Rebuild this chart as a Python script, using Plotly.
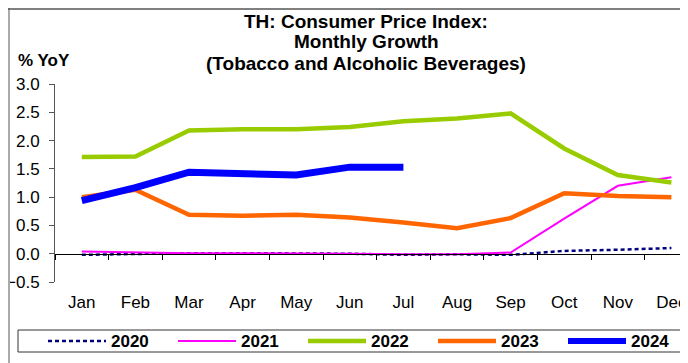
import plotly.graph_objects as go

months = ['Jan', 'Feb', 'Mar', 'Apr', 'May', 'Jun', 'Jul', 'Aug', 'Sep', 'Oct', 'Nov', 'Dec']

cpi_2020 = [-0.02, 0.0, 0.01, 0.01, 0.01, 0.0, -0.02, -0.01, -0.02, 0.05, 0.07, 0.10]
cpi_2021 = [0.04, 0.02, 0.01, 0.01, 0.01, 0.0, -0.01, -0.01, 0.02, 0.62, 1.20, 1.35]
cpi_2022 = [1.71, 1.72, 2.18, 2.20, 2.20, 2.24, 2.34, 2.39, 2.48, 1.86, 1.39, 1.26]
cpi_2023 = [1.00, 1.13, 0.69, 0.67, 0.69, 0.64, 0.55, 0.45, 0.63, 1.07, 1.02, 1.00]
cpi_2024 = [0.94, 1.17, 1.44, 1.41, 1.39, 1.53, 1.53]

title_lines = ['TH: Consumer Price Index:', 'Monthly Growth', '(Tobacco and Alcoholic Beverages)']

FONT = 'Liberation Sans, Arial, sans-serif'
OFF = 8                      # page body margin the figure sits in
W, H = 688 - OFF, 363 - OFF

series = [
    ('2020', cpi_2020, dict(color='#000080', width=2.5, dash='4px,3px')),
    ('2021', cpi_2021, dict(color='#FF00FF', width=2)),
    ('2022', cpi_2022, dict(color='#99CC00', width=4.5)),
    ('2023', cpi_2023, dict(color='#FF6600', width=4.5)),
    ('2024', cpi_2024, dict(color='#0000FF', width=7)),
]

fig = go.Figure()
for name, vals, line in series:
    fig.add_trace(go.Scatter(
        x=months[:len(vals)],
        y=vals,
        name=name,
        mode='lines',
        line=line,
        showlegend=False,
        hovertemplate=name + ': %{y:.2f}<extra></extra>'
    ))

# plot area (figure pixels)
left, right, top, bottom = 55 - OFF, 0, 84 - OFF, H - (282 - OFF)
plot_w = W - left - right
plot_h = H - top - bottom
cat_w = 53.6
x_range = [-0.5, -0.5 + plot_w / cat_w]
y_range = [-0.5, 3.0]


def fx(p):
    # screen px -> paper x
    return (p - OFF - left) / plot_w


def fy(p):
    # screen px -> paper y
    return (H - bottom - (p - OFF)) / plot_h


fig.update_layout(
    width=W, height=H,
    margin=dict(l=left, r=right, t=top, b=bottom, autoexpand=False),
    paper_bgcolor='white',
    plot_bgcolor='white',
    font=dict(family=FONT, size=17, color='black'),
    showlegend=False,
    xaxis=dict(
        type='category',
        categoryarray=months,
        range=x_range,
        showline=False, showgrid=False, zeroline=False,
        ticks='',
        ticklabelstandoff=8,
        tickfont=dict(size=17),
    ),
    xaxis2=dict(
        type='category',
        categoryarray=months,
        range=x_range,
        overlaying='x',
        anchor='free',
        position=(0 - y_range[0]) / (y_range[1] - y_range[0]),
        showline=True, linecolor='black', linewidth=1,
        ticks='outside', ticklen=5, tickcolor='black', tickson='boundaries',
        showticklabels=False, showgrid=False, zeroline=False,
    ),
    yaxis=dict(
        range=y_range,
        dtick=0.5,
        tickformat='.1f',
        showgrid=False, zeroline=False,
        showline=True, linecolor='#555555', linewidth=1,
        ticks='outside', ticklen=5, tickcolor='#555555',
        ticklabelstandoff=6,
        tickfont=dict(size=17),
    ),
)

# dummy so xaxis2 renders
fig.add_trace(go.Scatter(x=[], y=[], xaxis='x2', showlegend=False, hoverinfo='skip'))

# title and unit label
for i, txt in enumerate(title_lines):
    fig.add_annotation(text='<b>' + txt + '</b>', xref='paper', yref='paper',
                       x=fx(366), y=fy(21 + 21 * i), xanchor='center', yanchor='middle',
                       showarrow=False, font=dict(family=FONT, size=19, color='black'))
fig.add_annotation(text='<b>% YoY</b>', xref='paper', yref='paper',
                   x=fx(16), y=fy(60), xanchor='left', yanchor='middle',
                   showarrow=False, font=dict(family=FONT, size=17, color='black'))

# legend: boxed row beneath the axis
leg_y = 341
for i, (name, vals, line) in enumerate(series):
    x0 = 48 + 130 * i
    fig.add_shape(type='line', xref='paper', yref='paper',
                  x0=fx(x0), x1=fx(x0 + 58), y0=fy(leg_y), y1=fy(leg_y),
                  line=dict(color=line['color'], width=min(line['width'], 6),
                            dash=line.get('dash', 'solid')))
    fig.add_annotation(text='<b>' + name + '</b>', xref='paper', yref='paper',
                       x=fx(x0 + 61), y=fy(leg_y), xanchor='left', yanchor='middle',
                       showarrow=False, font=dict(family=FONT, size=17, color='black'))
fig.add_shape(type='rect', xref='paper', yref='paper',
              x0=fx(18), x1=fx(700), y0=fy(352), y1=fy(330),
              line=dict(color='#333333', width=1))

# outer frame (top and left edges)
fig.add_shape(type='line', xref='paper', yref='paper',
              x0=fx(OFF + 1), x1=fx(OFF + 1), y0=fy(OFF), y1=fy(H + OFF + 5),
              line=dict(color='#aaaaaa', width=2))
fig.add_shape(type='line', xref='paper', yref='paper',
              x0=fx(OFF), x1=fx(W + OFF + 5), y0=fy(OFF + 1), y1=fy(OFF + 1),
              line=dict(color='#555555', width=1.5))

fig.write_html("out.html")
